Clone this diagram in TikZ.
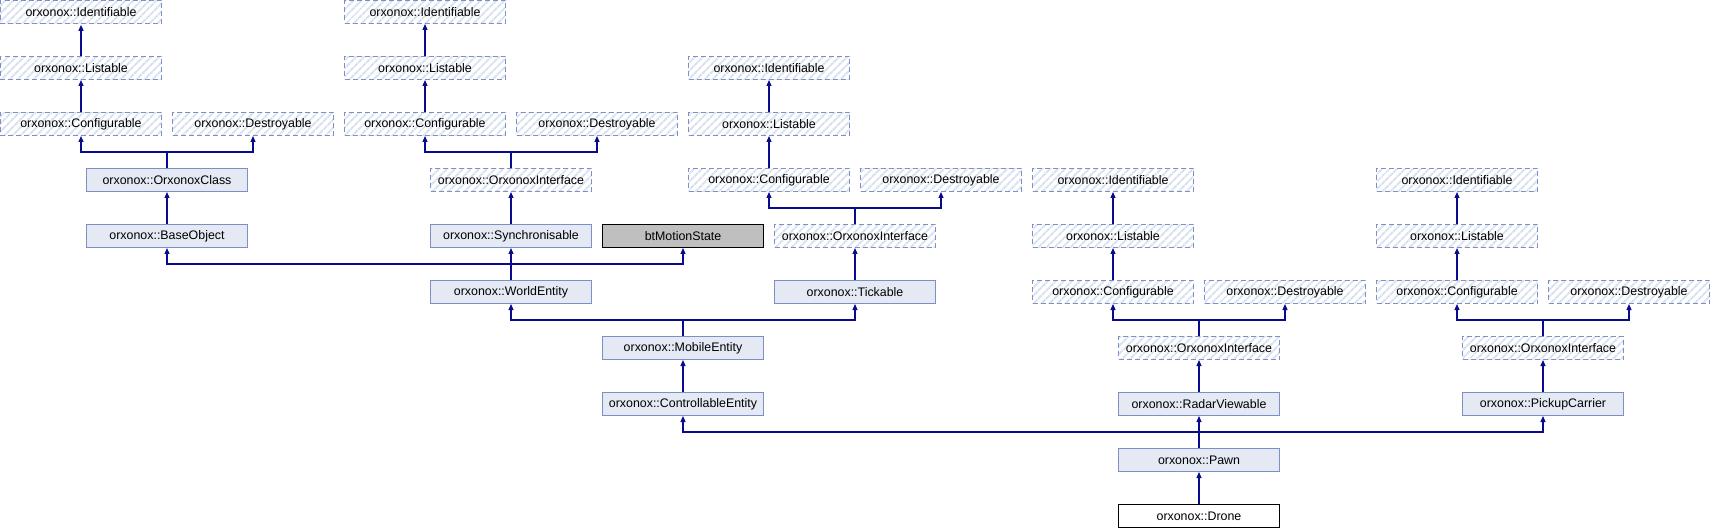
\documentclass[tikz,border=0pt]{standalone}
\usepackage{fontspec}
\setmainfont{Liberation Sans}
\usetikzlibrary{arrows.meta,patterns.meta}
\definecolor{edgeblue}{HTML}{0A0A8C}
\definecolor{boxborder}{HTML}{7D90C6}
\definecolor{boxfill}{HTML}{E5E9F4}
\definecolor{hatchcol}{HTML}{DCE2F0}
\definecolor{greyfill}{HTML}{BFBFBF}
\tikzset{
  cls/.style={rectangle, minimum width=161bp, minimum height=23bp, inner sep=0pt,
    line width=1bp, font=\fontsize{12.4bp}{14bp}\selectfont},
  solidbox/.style={cls, draw=boxborder, fill=boxfill},
  hatchbox/.style={cls, draw=boxborder, dash pattern=on 5bp off 3bp,
    preaction={fill=white},
    pattern={Lines[angle=45,distance=6bp,line width=2.6bp]}, pattern color=hatchcol},
  greybox/.style={cls, draw=black, fill=greyfill},
  focusbox/.style={cls, draw=black, fill=white},
  edge/.style={draw=edgeblue, line width=1.2bp, -{Triangle[length=6bp,width=5bp]}}
}
\begin{document}
\begin{tikzpicture}[x=1bp,y=1bp]
\useasboundingbox (0,0) rectangle (1710,-528);
% column 1
\node[hatchbox] (i1) at (81,-12) {orxonox::Identifiable};
\node[hatchbox] (l1) at (81,-68) {orxonox::Listable};
\node[hatchbox] (c1) at (81,-124) {orxonox::Configurable};
\node[hatchbox] (d1) at (253,-124) {orxonox::Destroyable};
\node[solidbox] (oc) at (167,-180) {orxonox::OrxonoxClass};
\node[solidbox] (bo) at (167,-236) {orxonox::BaseObject};
% column 2
\node[hatchbox] (i2) at (425,-12) {orxonox::Identifiable};
\node[hatchbox] (l2) at (425,-68) {orxonox::Listable};
\node[hatchbox] (c2) at (425,-124) {orxonox::Configurable};
\node[hatchbox] (d2) at (597,-124) {orxonox::Destroyable};
\node[hatchbox] (oi2) at (511,-180) {orxonox::OrxonoxInterface};
\node[solidbox] (sy) at (511,-236) {orxonox::Synchronisable};
\node[greybox] (bt) at (683,-236) {btMotionState};
\node[solidbox] (we) at (511,-292) {orxonox::WorldEntity};
% column 3
\node[hatchbox] (i3) at (769,-68) {orxonox::Identifiable};
\node[hatchbox] (l3) at (769,-124) {orxonox::Listable};
\node[hatchbox] (c3) at (769,-180) {orxonox::Configurable};
\node[hatchbox] (d3) at (941,-180) {orxonox::Destroyable};
\node[hatchbox] (oi3) at (855,-236) {orxonox::OrxonoxInterface};
\node[solidbox] (ti) at (855,-292) {orxonox::Tickable};
\node[solidbox] (me) at (683,-348) {orxonox::MobileEntity};
\node[solidbox] (ce) at (683,-404) {orxonox::ControllableEntity};
% column 4
\node[hatchbox] (i4) at (1113,-180) {orxonox::Identifiable};
\node[hatchbox] (l4) at (1113,-236) {orxonox::Listable};
\node[hatchbox] (c4) at (1113,-292) {orxonox::Configurable};
\node[hatchbox] (d4) at (1285,-292) {orxonox::Destroyable};
\node[hatchbox] (oi4) at (1199,-348) {orxonox::OrxonoxInterface};
\node[solidbox] (rv) at (1199,-404) {orxonox::RadarViewable};
\node[solidbox] (pa) at (1199,-460) {orxonox::Pawn};
\node[focusbox] (dr) at (1199,-516) {orxonox::Drone};
% column 5
\node[hatchbox] (i5) at (1457,-180) {orxonox::Identifiable};
\node[hatchbox] (l5) at (1457,-236) {orxonox::Listable};
\node[hatchbox] (c5) at (1457,-292) {orxonox::Configurable};
\node[hatchbox] (d5) at (1629,-292) {orxonox::Destroyable};
\node[hatchbox] (oi5) at (1543,-348) {orxonox::OrxonoxInterface};
\node[solidbox] (pc) at (1543,-404) {orxonox::PickupCarrier};
% edges column 1
\draw[edge] (l1.north) -- (i1.south);
\draw[edge] (c1.north) -- (l1.south);
\draw[edge] (oc.north) -- ++(0,16) -| (c1.south);
\draw[edge] (oc.north) -- ++(0,16) -| (d1.south);
\draw[edge] (bo.north) -- (oc.south);
% edges column 2
\draw[edge] (l2.north) -- (i2.south);
\draw[edge] (c2.north) -- (l2.south);
\draw[edge] (oi2.north) -- ++(0,16) -| (c2.south);
\draw[edge] (oi2.north) -- ++(0,16) -| (d2.south);
\draw[edge] (sy.north) -- (oi2.south);
\draw[edge] (we.north) -- (sy.south);
\draw[edge] (we.north) -- ++(0,16) -| (bo.south);
\draw[edge] (we.north) -- ++(0,16) -| (bt.south);
% edges column 3
\draw[edge] (l3.north) -- (i3.south);
\draw[edge] (c3.north) -- (l3.south);
\draw[edge] (oi3.north) -- ++(0,16) -| (c3.south);
\draw[edge] (oi3.north) -- ++(0,16) -| (d3.south);
\draw[edge] (ti.north) -- (oi3.south);
\draw[edge] (me.north) -- ++(0,16) -| (we.south);
\draw[edge] (me.north) -- ++(0,16) -| (ti.south);
\draw[edge] (ce.north) -- (me.south);
% edges column 4
\draw[edge] (l4.north) -- (i4.south);
\draw[edge] (c4.north) -- (l4.south);
\draw[edge] (oi4.north) -- ++(0,16) -| (c4.south);
\draw[edge] (oi4.north) -- ++(0,16) -| (d4.south);
\draw[edge] (rv.north) -- (oi4.south);
% edges column 5
\draw[edge] (l5.north) -- (i5.south);
\draw[edge] (c5.north) -- (l5.south);
\draw[edge] (oi5.north) -- ++(0,16) -| (c5.south);
\draw[edge] (oi5.north) -- ++(0,16) -| (d5.south);
\draw[edge] (pc.north) -- (oi5.south);
% pawn and drone
\draw[edge] (pa.north) -- (rv.south);
\draw[edge] (pa.north) -- ++(0,16) -| (ce.south);
\draw[edge] (pa.north) -- ++(0,16) -| (pc.south);
\draw[edge] (dr.north) -- (pa.south);
\end{tikzpicture}
\end{document}
